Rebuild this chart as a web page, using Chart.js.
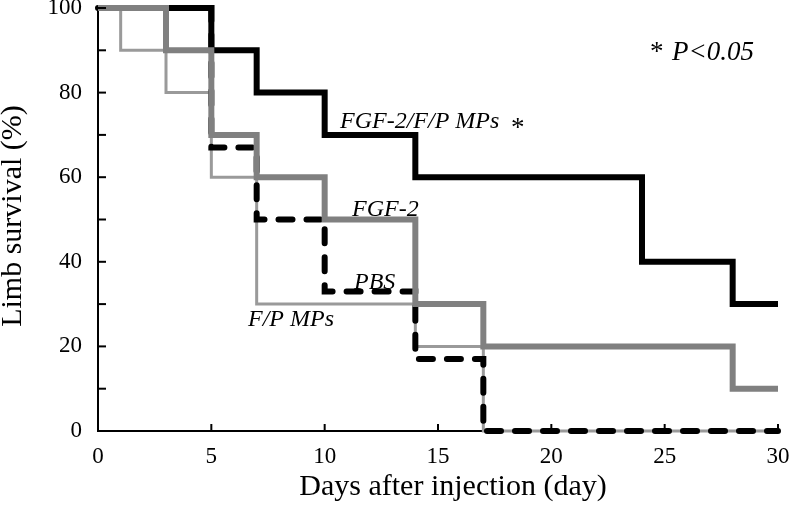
<!DOCTYPE html>
<html>
<head>
<meta charset="utf-8">
<script src="https://cdn.jsdelivr.net/npm/chart.js@4"></script>
<style>
  html, body { margin: 0; padding: 0; background: #fff; }
  #chart { display: block; }
</style>
</head>
<body>
<canvas id="chart" width="789" height="511"></canvas>
<script>
// Kaplan-Meier steps: each value holds from its day until the next day
const fgfFpDays = [0, 5, 7, 10, 14, 24, 28, 30];
const fgfFpSurvival = [100, 90, 80, 70, 60, 40, 30, 30];

const fgfDays = [0, 3, 5, 7, 10, 14, 17, 28, 30];
const fgfSurvival = [100, 90, 70, 60, 50, 30, 20, 10, 10];

const pbsDays = [0, 5, 7, 10, 14, 17, 30];
const pbsSurvival = [100, 67, 50, 33, 17, 0, 0];

const fpDays = [0, 1, 3, 5, 7, 14, 17, 30];
const fpSurvival = [100, 90, 80, 60, 30, 20, 0, 0];

const xTicks = [0, 5, 10, 15, 20, 25, 30];
const yTicks = [0, 20, 40, 60, 80, 100];

function toPoints(days, values) {
    return days.map((d, i) => ({ x: d, y: values[i] }));
}

// inward ticks, axis titles and text labels
const extras = {
    id: 'extras',
    afterDatasetsDraw(chart) {
        const ctx = chart.ctx;
        const xs = chart.scales.x;
        const ys = chart.scales.y;
        const area = chart.chartArea;
        ctx.save();
        ctx.strokeStyle = '#000';
        ctx.lineWidth = 2;
        for (let v = 10; v <= 100; v += 10) {
            const py = ys.getPixelForValue(v);
            ctx.beginPath();
            ctx.moveTo(area.left, py);
            ctx.lineTo(area.left + 8, py);
            ctx.stroke();
        }
        for (let v = 5; v <= 30; v += 5) {
            const px = xs.getPixelForValue(v);
            ctx.beginPath();
            ctx.moveTo(px, area.bottom);
            ctx.lineTo(px, area.bottom - 7);
            ctx.stroke();
        }

        ctx.fillStyle = '#000';
        ctx.textBaseline = 'alphabetic';

        // axis titles
        ctx.font = '30px "Liberation Serif"';
        ctx.textAlign = 'center';
        ctx.fillText('Days after injection (day)', 453, 495);
        ctx.save();
        ctx.translate(21, 216);
        ctx.rotate(-Math.PI / 2);
        ctx.fillText('Limb survival (%)', 0, 0);
        ctx.restore();

        ctx.textAlign = 'left';
        ctx.font = 'italic 24px "Liberation Serif"';
        ctx.fillText('FGF-2/F/P MPs', 340, 128);
        ctx.fillText('FGF-2', 352, 216);
        ctx.fillText('PBS', 354, 289);
        ctx.fillText('F/P MPs', 248, 326);
        ctx.font = '27px "Liberation Serif"';
        ctx.fillText('*', 511, 136);
        ctx.fillText('*', 650, 60);
        ctx.font = 'italic 27px "Liberation Serif"';
        ctx.fillText('P<0.05', 672, 60);
        ctx.restore();
    }
};

const ctx = document.getElementById('chart').getContext('2d');
new Chart(ctx, {
    type: 'line',
    data: {
        datasets: [
            {
                label: 'FGF-2',
                data: toPoints(fgfDays, fgfSurvival),
                borderColor: '#808080',
                borderWidth: 6,
                stepped: true,
                clip: false
            },
            {
                label: 'FGF-2/F/P MPs',
                data: toPoints(fgfFpDays, fgfFpSurvival),
                borderColor: '#000',
                borderWidth: 6,
                stepped: true,
                clip: false
            },
            {
                label: 'PBS',
                data: toPoints(pbsDays, pbsSurvival),
                borderColor: '#000',
                borderWidth: 6,
                borderDash: [14, 14],
                borderCapStyle: 'round',
                stepped: true,
                clip: false
            },
            {
                label: 'F/P MPs',
                data: toPoints(fpDays, fpSurvival),
                borderColor: '#9a9a9a',
                borderWidth: 3,
                stepped: true,
                clip: false
            }
        ]
    },
    options: {
        responsive: false,
        animation: false,
        devicePixelRatio: 1,
        layout: { padding: { top: 8, right: 11, left: 0, bottom: 0 } },
        elements: { point: { radius: 0 } },
        plugins: {
            legend: { display: false },
            tooltip: { enabled: false }
        },
        scales: {
            x: {
                type: 'linear',
                min: 0,
                max: 30,
                afterFit: s => {
                    s.height = 80;
                    s.paddingLeft = 0;
                    s.paddingRight = 0;
                },
                afterBuildTicks: s => { s.ticks = xTicks.map(v => ({ value: v })); },
                grid: { display: false },
                border: { display: true, color: '#000', width: 2 },
                ticks: {
                    color: '#000',
                    padding: 4,
                    maxRotation: 0,
                    font: { family: 'Liberation Serif', size: 23 }
                }
            },
            y: {
                min: 0,
                max: 100,
                afterFit: s => {
                    s.width = 98;
                    s.paddingTop = 0;
                    s.paddingBottom = 0;
                },
                afterBuildTicks: s => { s.ticks = yTicks.map(v => ({ value: v })); },
                grid: { display: false },
                border: { display: true, color: '#000', width: 2 },
                ticks: {
                    color: '#000',
                    padding: 8,
                    font: { family: 'Liberation Serif', size: 23 }
                }
            }
        }
    },
    plugins: [extras]
});
</script>
</body>
</html>
